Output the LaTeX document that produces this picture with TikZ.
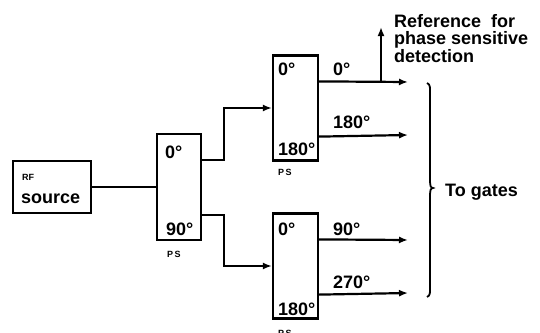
\documentclass[tikz,border=0pt]{standalone}
\usepackage{fontspec}
\setmainfont{Liberation Sans}
\usetikzlibrary{arrows.meta}
\begin{document}
\begin{tikzpicture}[x=1pt,y=-1pt,
  wire/.style={line width=2.2pt},
  arr/.style={line width=2.2pt,-{Latex[length=9pt,width=7pt]}},
  blk/.style={draw,line width=2.2pt,inner sep=0pt,minimum width=45pt,minimum height=105pt},
  big/.style={inner sep=0pt,anchor=base west,font=\bfseries\fontsize{18}{21}\selectfont},
  tiny/.style={inner sep=0pt,anchor=base west,font=\bfseries\fontsize{9}{10}\selectfont}]
\useasboundingbox (0,0) rectangle (540,332);
% blocks
\node[draw,line width=2.2pt,inner sep=0pt,minimum width=78pt,minimum height=52pt] (rf) at (52,187) {};
\node[blk,minimum width=44pt,minimum height=106pt] (ps1) at (179,187) {};
\node[blk] (ps2) at (295.5,108) {};
\node[blk] (ps3) at (295.5,266) {};
% texts in blocks
\node[tiny] (trf) at (22,180) {RF};
\node[big] (tsrc) at (21,203) {source};
\node[big] (t10) at (165,158) {0°};
\node[big] (t190) at (166,235) {90°};
\node[tiny] (tps1) at (167,257) {P\,S};
\node[big] (t20) at (278,75) {0°};
\node[big] (t2180) at (278,155) {180°};
\node[tiny] (tps2) at (278,175) {P\,S};
\node[big] (t30) at (278,235) {0°};
\node[big] (t3180) at (278,315) {180°};
\node[tiny] (tps3) at (278,336) {P\,S};
% output labels
\node[big] (l0) at (333,75) {0°};
\node[big] (l180) at (333,128) {180°};
\node[big] (l90) at (333,235) {90°};
\node[big] (l270) at (333,288) {270°};
\node[inner sep=0pt,anchor=north west,align=left,font=\bfseries\fontsize{18}{16.5}\selectfont] (reftxt) at (394,14.5) {Reference\hspace{10pt}for\\phase sensitive\\detection};
\node[big] (gates) at (445,196) {To gates};
% output end points
\coordinate (o1) at (408,82);
\coordinate (o2) at (408,135);
\coordinate (o3) at (408,240);
\coordinate (o4) at (408,293);
\coordinate (refend) at (381,27);
% connectors
\draw[wire] (rf.east) -- (ps1.west);
\draw[arr] ([yshift=-27pt]ps1.north east) -- ++(22,0) |- (ps2.west);
\draw[arr] ([yshift=26pt]ps1.south east) -- ++(22,0) |- (ps3.west);
\draw[arr] ([yshift=-27pt]ps2.north east) -- (o1);
\draw[arr] ([yshift=25pt]ps2.south east) -- (o2);
\draw[arr] ([yshift=-27pt]ps3.north east) -- (o3);
\draw[arr] ([yshift=25pt]ps3.south east) -- (o4);
\draw[arr] (refend |- o1) -- (refend);
% brace
\draw[line width=1.8pt] (427,83) to[out=-20,in=90] (430,92) -- (430,182) to[out=-90,in=180] (433,188) to[out=180,in=90] (430,194) -- (430,288) to[out=-90,in=20] (427,297);
\end{tikzpicture}
\end{document}
